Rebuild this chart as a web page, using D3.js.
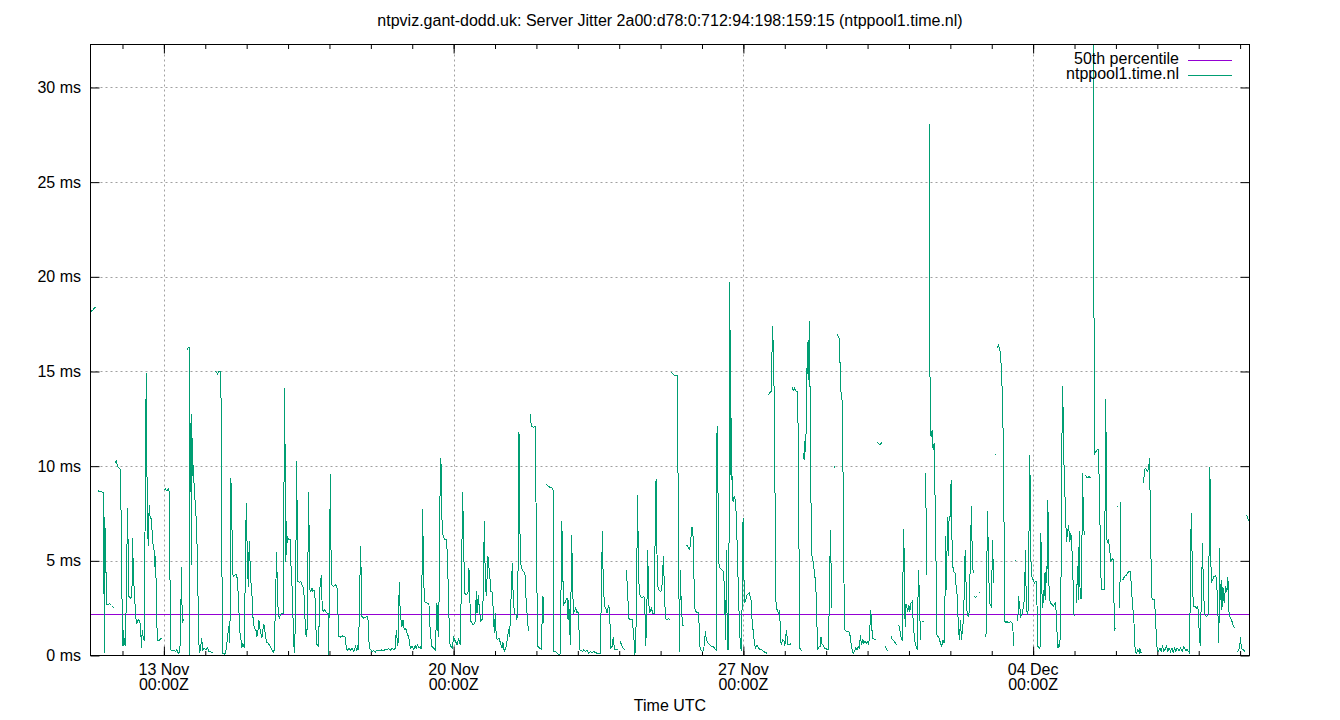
<!DOCTYPE html>
<html><head><meta charset="utf-8">
<script src="https://cdn.jsdelivr.net/npm/d3@7"></script>
<style>
body{margin:0;background:#fff;}
svg{display:block;font-family:"Liberation Sans",Arial,sans-serif;}
</style></head><body>
<svg id="chart" width="1340" height="720"></svg>
<script>
// ---------------- data ----------------
const chartTitle = "ntpviz.gant-dodd.uk: Server Jitter 2a00:d78:0:712:94:198:159:15 (ntppool1.time.nl)";
const xAxisTitle = "Time UTC";
const seriesNames = ["50th percentile", "ntppool1.time.nl"];
const startTime = "2023-11-11T05:27:00Z";   // left edge of the time axis
const spanHours = 672;                        // 28 days shown
const yMaxMs = 32.27;
const yTicksMs = [0, 5, 10, 15, 20, 25, 30];
const xMajorTicks = ["2023-11-13T00:00:00Z", "2023-11-20T00:00:00Z", "2023-11-27T00:00:00Z", "2023-12-04T00:00:00Z"];
const xTickLabels = ["13 Nov", "20 Nov", "27 Nov", "04 Dec"];
const xTickSubLabel = "00:00Z";
const percentile50Ms = 2.19;
// [hours since startTime, jitter in ms]; null = gap in the data
const jitterSamples = [
[0.22,18.17],[0.99,18.22],[1.76,18.29],[2.54,18.4],[2.92,18.4],null,
[4.08,8.66],[4.86,8.7],[5.82,8.66],[6.6,8.63],[7.56,8.63],[7.76,4.38],[8.05,0.12],[8.34,7.34],[8.72,4.35],[8.91,4.96],[9.11,3.73],[9.5,2.68],[10.27,2.68],[11.04,2.76],[11.81,2.68],null,
[12.6,2.57],[13.4,2.55],null,
[14.13,10.16],[14.9,10.3],[15.68,9.98],[16.65,9.89],[17.42,9.81],[18.0,5.23],[18.58,0.48],[18.97,1.36],[19.35,0.48],[19.74,0.92],[20.32,0.51],[20.9,4.17],[21.48,7.78],[21.87,5.4],[22.25,3.12],[23.22,3.03],[24.0,3.12],[24.38,6.2],[24.77,4.7],[25.35,3.38],[25.73,2.85],[26.31,1.97],[26.89,1.71],[27.67,1.88],[28.63,1.8],[29.21,1.09],[29.6,0.39],[29.98,1.36],[30.56,0.92],[31.14,0.83],[31.72,7.87],[32.3,14.91],[32.69,10.42],[32.88,7.87],[33.46,5.76],[34.04,7.96],[34.62,7.25],[35.4,7.25],[35.98,5.93],[36.75,5.76],[37.14,4.7],[37.72,5.23],[38.3,2.76],[38.69,0.83],[39.65,0.77],[40.43,0.86],[41.2,0.92],null,
[42.55,8.75],[43.32,8.8],[44.29,8.7],[45.06,8.79],[45.64,8.66],[46.03,4.52],[46.61,0.3],[47.38,0.26],[48.54,0.25],[49.32,0.21],[50.09,0.3],[50.86,0.12],[51.83,0.21],[52.41,2.59],[52.8,4.7],[53.18,1.71],[53.76,1.88],[54.53,1.8],null,
[56.08,16.14],[56.66,16.29],[57.24,16.29],[57.43,0.04],[57.63,8.05],[58.01,11.21],[58.4,12.76],[58.59,4.79],[58.98,11.48],[59.56,9.72],[60.33,8.66],[60.91,7.69],[61.49,6.99],[62.07,4.61],[62.65,1.44],[63.04,0.12],[63.81,0.3],[64.39,0.92],[65.17,0.3],[65.94,0.39],[66.71,0.3],[67.87,0.39],[68.65,0.21],[69.42,0.21],[70.19,0.18],[71.16,0.16],null,
[72.12,15.04],[73.09,14.95],[73.67,14.88],[74.44,15.0],[75.6,15.0],[75.99,7.52],[76.57,0.12],[77.54,0.07],[78.31,0.12],[78.89,0.48],[79.47,1.0],[80.24,1.53],[80.82,0.65],[81.4,9.37],[81.98,7.08],[82.37,4.35],[82.95,4.17],[83.72,4.26],[84.5,4.26],[85.08,4.08],[85.85,2.94],[86.43,1.36],[87.2,0.92],[87.59,0.39],[88.36,0.65],[89.14,0.39],[89.72,4.17],[90.3,8.05],[90.88,5.49],[91.46,3.64],[92.04,6.02],[92.62,4.7],[93.2,3.56],[93.78,3.03],[94.36,1.71],[95.13,1.44],[95.9,1.36],[96.48,1.0],[97.06,1.27],[97.64,1.88],[98.22,1.44],[98.8,1.18],[99.38,0.92],[99.96,1.36],[100.54,1.65],[101.12,1.27],[101.7,0.92],[102.28,0.69],[103.06,0.65],[104.02,0.51],[104.99,0.33],[105.96,0.16],[106.54,0.3],[107.31,2.94],[107.89,5.49],[108.28,3.82],[108.86,2.15],[109.44,1.97],[110.21,2.15],[110.79,2.24],[111.76,2.24],[112.14,8.22],[112.53,14.12],[112.91,9.54],[113.3,4.96],[113.69,7.08],[114.07,5.93],[114.65,6.2],[115.23,6.11],[115.81,6.11],[116.39,4.35],[116.97,3.47],[117.55,1.53],[118.13,0.12],[118.71,1.44],[119.1,5.32],[119.48,10.25],[119.87,7.08],[120.26,3.91],[121.03,3.86],[121.8,3.91],[122.38,3.82],[122.96,3.64],[123.54,3.56],[123.93,3.03],[124.51,1.62],[124.9,1.09],[125.48,1.0],[126.06,4.88],[126.44,8.66],[126.83,6.02],[127.21,3.47],[127.79,3.38],[128.37,3.56],[128.95,3.38],[129.54,3.47],[130.12,3.2],[130.5,1.97],[131.08,0.56],[131.66,0.56],[132.24,0.48],[132.63,2.06],[133.01,3.56],[133.4,3.82],[133.79,4.26],[134.37,2.5],[134.95,2.32],[135.53,2.45],
[136.32,2.32],[137.1,2.24],[137.87,2.24],[138.06,0.05],[138.64,4.88],[139.03,9.6],[139.22,6.64],[139.61,4.88],[140.0,3.73],[140.96,3.64],[141.93,3.73],[142.9,3.64],[143.47,2.24],[144.05,1.0],[145.22,0.97],[146.37,1.04],[147.73,0.97],[148.31,0.39],[149.08,0.26],[149.85,0.39],[150.63,0.26],[151.59,0.39],[152.56,0.21],[153.72,0.48],[154.49,0.26],[154.88,0.56],[155.46,0.3],[156.04,3.29],[156.62,5.79],[157.01,3.91],[157.39,2.06],[158.36,1.97],[159.33,2.02],[160.29,2.06],[160.87,1.97],[161.65,0.39],[162.23,0.33],[163.19,0.21],[164.16,0.26],[165.13,0.16],[166.09,0.3],[167.06,0.26],[168.02,0.26],[168.99,0.3],[169.96,0.26],[170.92,0.33],[171.89,0.3],[172.86,0.39],[173.82,0.26],[174.79,0.39],[175.76,0.3],[176.72,0.39],[177.3,1.36],[177.69,0.97],[178.27,0.48],[179.04,3.86],[179.62,2.15],[180.59,1.53],[181.17,1.88],[181.94,1.36],[182.71,1.44],[183.87,1.09],[184.45,1.0],[185.42,0.39],[186.39,0.48],[187.35,0.33],[188.32,0.51],[188.9,0.39],[189.67,0.56],[190.45,0.39],[191.22,0.48],[191.8,0.33],[192.19,4.0],[192.57,7.73],[192.96,5.23],[193.54,2.85],[194.31,2.8],[195.47,2.76],[196.25,2.68],[197.02,1.18],[197.99,0.48],[198.95,0.39],[199.92,0.3],[200.89,2.76],[201.27,1.53],[201.85,0.97],[202.43,5.76],[202.82,10.42],[203.2,10.25],[203.59,8.22],[203.98,6.37],[204.37,6.37],[205.33,6.11],[206.3,6.11],[206.88,5.4],[207.46,3.47],[208.23,0.65],[209.0,0.48],[209.78,0.39],[210.55,1.0],[211.13,0.83],[211.71,0.74],[212.48,0.56],[213.45,0.92],[214.42,0.56],[215.19,4.61],[215.77,8.66],[216.35,5.93],[216.93,3.29],[217.9,3.2],[218.86,3.29],[219.44,4.61],[219.83,3.12],[220.6,1.8],[221.38,1.67],[222.15,1.62],[223.12,1.8],[223.69,3.38],[224.08,2.24],[224.85,3.2],[225.63,2.24],[226.4,1.8],[227.37,1.97],[227.95,4.52],[228.33,7.08],[228.91,4.0],[229.49,3.12],[230.46,5.23],[231.43,4.26],[232.2,3.38],[232.97,3.33],[233.55,2.32],[234.13,1.18],[234.71,2.24],[235.29,0.92],[236.07,0.83],[236.84,0.92],[237.61,0.69],[238.58,0.39],[239.16,0.69],[239.93,0.21],[241.1,0.48],[242.45,1.39],[243.03,1.0],[243.8,2.94],[244.57,4.91],[244.96,3.47],[245.73,2.24],[246.7,2.15],[247.28,1.88],[247.86,4.26],[248.44,11.83],[248.82,8.31],[249.21,4.91],[250.37,4.52],[251.14,4.44],[251.92,4.26],[252.5,3.03],[253.08,2.24],[253.46,1.71],[254.04,1.27],null,
[255.01,12.75],[255.59,12.1],[256.95,12.06],[257.91,12.1],[258.49,6.37],[259.27,0.48],[260.43,0.39],[261.4,0.33],[261.97,2.24],[262.36,3.12],[262.94,1.74],null,
[264.3,9.07],[265.07,8.96],[266.23,8.89],[267.58,8.84],[268.18,8.75],[268.37,4.52],[268.56,0.21],[269.53,0.21],[270.5,0.12],[271.46,0.04],[272.43,0.09],[272.82,3.56],[273.2,7.08],[273.59,6.02],[273.98,3.82],[274.36,2.68],[274.94,2.76],[275.72,2.94],[276.3,3.03],[276.88,1.88],[277.26,2.94],[278.23,0.56],[278.62,3.47],[279.0,6.37],[279.39,4.35],[279.97,2.24],[280.55,2.32],[281.32,2.5],[282.1,2.24],[282.67,2.32],[283.25,1.36],[283.83,0.3],[284.61,0.26],[285.38,0.21],[285.96,0.3],[286.93,0.21],[287.89,0.3],[288.86,0.12],[289.83,0.21],[290.79,0.12],[291.76,0.21],[292.73,0.16],[293.69,0.12],[294.66,0.09],[295.63,0.09],[296.21,3.38],[296.79,6.55],[297.17,4.52],[297.94,2.59],[298.72,2.5],[299.49,2.24],[300.46,2.68],[301.04,2.24],[301.62,0.39],[302.39,0.48],[303.16,1.0],[303.74,0.3],[304.71,0.3],[305.87,0.3],null,
[307.22,0.74],[308.19,0.48],[309.54,0.3],null,
[310.7,4.52],[311.48,3.29],[312.06,1.97],[313.02,1.88],[313.99,1.92],[314.96,1.09],[315.54,0.12],[316.12,0.21],[316.89,5.76],[317.28,8.49],[317.66,4.35],[318.44,3.2],[319.79,3.03],[320.76,3.12],[321.34,2.94],[321.92,0.48],[322.5,1.88],[323.08,5.58],[323.66,2.76],[324.24,2.24],[325.2,2.5],[325.98,2.24],[326.75,2.24],[327.33,5.93],[327.91,9.31],[328.3,6.55],[328.68,3.73],[329.45,3.47],[330.42,3.38],[331.19,3.47],[331.77,4.35],[332.16,5.23],[332.74,3.56],[333.32,1.97],[334.29,1.88],[335.25,1.97],[335.83,1.88],null,
[336.6,14.95],[337.38,14.91],[338.15,14.82],[339.12,14.77],[340.08,14.77],[340.86,7.69],[341.44,0.21],[342.02,4.52],[342.4,3.12],[343.18,1.62],[344.34,1.53],null,
[345.5,5.85],[346.27,5.76],[347.43,5.58],[348.2,6.29],[348.78,6.81],[349.36,6.29],[349.94,4.0],[350.52,2.41],[351.68,2.24],[352.65,2.27],[353.23,0.48],[354.0,0.3],[354.78,0.21],[355.55,0.3],[356.52,1.27],[357.1,0.83],[358.06,0.65],[359.03,0.56],[360.0,0.48],[360.96,0.48],[361.74,0.39],[362.7,0.3],[363.28,12.1],[363.86,8.4],[364.44,4.7],[365.22,4.61],[366.18,4.52],[367.15,4.44],[367.73,2.68],[368.31,0.83],[368.69,5.58],[369.27,0.3],[370.05,0.3],[370.63,19.75],[371.01,13.94],[371.4,9.28],[371.59,12.54],[371.98,9.28],[372.56,8.13],[373.14,8.4],[373.91,8.22],[374.49,7.34],[375.07,5.4],[375.85,2.76],[376.81,0.39],[377.39,0.3],[377.97,3.64],[378.36,7.25],[378.74,4.52],[379.33,2.76],[380.68,3.2],[382.03,3.29],[383.0,2.94],[383.58,1.88],[384.93,0.65],[385.51,0.39],[386.48,0.56],[387.45,0.39],[388.41,0.3],[389.38,0.3],[390.35,0.21],[391.31,0.16],[392.28,0.12],null,
[393.25,13.77],[394.02,13.89],[394.6,13.94],[394.99,15.53],[395.57,17.38],[395.95,15.62],[396.34,14.12],[396.92,8.22],[397.5,2.5],[398.27,2.41],[398.85,2.24],[399.43,2.32],[400.01,1.53],[400.4,0.56],[401.36,0.83],[402.33,0.74],[402.54,0.48],[403.51,1.36],[404.28,0.56],[405.44,0.56],[406.22,0.65],null,
[406.8,14.03],[407.18,14.12],[407.76,14.0],[408.34,14.12],[409.12,13.94],[410.08,13.94],[410.66,7.25],[411.24,0.39],[412.02,0.3],[412.6,0.21],null,
[413.17,10.69],[413.75,10.33],[414.33,11.39],[414.72,10.77],[415.11,13.33],[415.69,16.58],[416.07,14.56],[416.85,17.64],[417.43,11.57],[418.01,5.4],[418.59,5.14],[419.17,4.88],[419.75,4.35],[420.52,3.82],[421.1,1.88],[421.68,0.3],[422.45,0.48],[423.03,0.48],[423.61,1.0],[424.19,0.56],[424.77,0.56],[425.55,0.39],[426.32,0.39],[427.09,0.3],[427.87,0.3],[428.45,3.47],[429.03,6.64],[429.41,4.61],[429.8,2.5],null,
[430.96,9.89],[431.73,9.98],null,
[433.08,16.97],[433.47,16.88],[434.05,16.76],[434.63,15.35],[435.21,13.77],[435.98,13.33],[436.56,7.08],[437.14,1.36],[437.92,1.3],[438.69,1.27],[439.66,1.27],[440.24,1.18],[440.62,0.83],[441.4,0.39],[442.17,0.12],[442.94,0.21],[443.72,0.39],[444.49,0.3],[445.26,0.48],[445.84,0.39],[446.42,1.09],[447.0,0.56],[447.78,0.83],[448.36,0.65],[449.13,0.74],[449.9,0.65],[450.68,0.74],[451.25,0.56],[451.83,1.36],[452.41,2.41],[452.99,1.44],[453.57,0.92],[454.73,0.83],[455.51,0.86],null,
[456.28,11.25],[457.05,11.18],[457.63,11.13],[458.41,11.21],[459.18,11.3],null,
[460.92,0.48],[461.5,0.3],[462.47,0.26],null,
[464.21,1.0],[464.98,0.83],[466.14,0.74],[467.3,0.56],null,
[468.65,1.62],[469.23,1.36],[470.01,0.92],[470.59,0.83],[470.97,3.73],[471.55,6.67],[471.94,3.73],[472.33,1.53],[472.71,2.73],[473.29,2.59],[473.87,2.32],[474.45,2.68],[475.03,2.32],[475.61,2.76],[476.39,2.85],[476.97,1.88],[477.74,0.83],[478.51,0.56],[479.29,0.3],[480.06,4.52],[480.64,3.03],[481.22,0.83],null,
[482.19,1.8],[483.15,1.8],null,
[484.31,9.63],[484.5,6.9],[484.7,4.26],null,
[486.44,28.07],[486.63,19.93],[486.83,11.74],[487.41,11.57],[487.98,11.92],[488.56,10.86],[489.14,11.21],[490.11,6.11],[490.69,1.09],[491.46,1.0],[492.04,0.92],[492.81,0.65],[493.59,0.48],[494.36,0.83],[494.94,0.65],[495.52,3.47],[495.91,6.29],[496.3,3.47],[496.88,7.34],[497.26,5.23],[497.84,7.34],[498.42,7.34],[499.0,9.28],[499.39,6.46],[499.97,4.7],[500.55,4.44],[501.32,4.35],[501.9,3.64],[502.48,3.2],[503.06,1.88],[503.45,1.18],[503.83,0.83],[504.41,1.88],[504.99,0.83],[505.57,1.36],[506.15,1.88],[506.54,3.12],[507.12,5.58],[507.7,3.64],[508.28,2.15],[509.05,2.06],[509.63,2.41],[510.21,5.76],[510.79,7.87],[511.18,5.67],[511.76,4.35],null,
[512.53,3.12],[513.31,3.06],[514.08,3.15],null,
[515.24,3.29],[516.01,3.38],null,
[516.8,3.82],[517.1,3.8],null,
[518.72,1.0],[519.3,1.18],[519.68,4.44],[520.07,7.61],[520.65,5.14],[521.23,2.76],[521.81,2.68],[522.39,2.59],[522.97,6.11],[523.35,4.88],[523.74,3.82],null,
[524.5,10.63],[524.9,10.6],null,
[525.87,16.23],[526.45,16.46],[527.03,16.14],[527.61,16.06],[528.38,14.56],[528.96,12.89],[529.54,8.49],[530.12,1.8],[530.9,1.74],[531.47,1.8],[532.05,1.71],[533.43,1.8],[534.4,1.71],[534.98,1.18],[535.17,0.48],null,
[536.2,5.05],[536.5,5.0],null,
[537.68,1.8],[538.07,3.12],[538.65,2.68],[539.42,2.06],[540.0,2.15],[540.58,2.41],[541.16,2.59],[541.74,4.0],[542.13,5.58],[542.51,3.12],[543.09,2.15],[543.67,2.41],[544.25,7.34],[544.64,10.6],[545.03,6.46],[545.41,4.52],[545.99,4.08],[546.57,4.0],[547.35,3.82],[547.93,3.91],[548.51,3.91],[549.28,0.48],[550.05,0.39],[550.63,0.48],[551.02,6.46],[551.6,3.47],[551.99,2.5],[552.37,3.47],[552.76,2.76],[553.15,4.35],[553.53,2.94],[554.11,4.7],[554.5,3.82],[555.08,8.22],[555.47,5.58],[555.85,3.03],[556.63,2.76],[557.59,2.68],[558.17,2.59],[558.75,2.68],[559.33,2.76],[559.72,2.59],[560.3,1.44],[560.88,0.39],[561.46,0.56],[562.04,0.48],[562.62,2.41],[563.0,9.28],[563.59,14.24],[563.97,12.8],[564.36,10.33],[565.32,7.52],[565.9,6.02],[566.48,6.46],[567.06,6.9],[567.84,6.02],[568.42,6.46],[569.0,5.76],[569.58,4.35],[570.16,2.15],[570.54,2.06],null,
[571.7,2.76],[572.28,4.7],[572.86,2.94],[573.25,6.55],[573.83,2.98],[574.6,3.03],[575.18,9.63],[575.76,7.17],[576.15,6.37],null,
[576.92,9.54],[577.89,9.37],[579.05,9.45],[579.82,9.37],null,
[581.56,34.0],[581.75,22.9],[581.95,12.18],[582.33,10.69],[582.91,10.77],[583.69,10.86],[584.46,10.9],[585.23,7.34],[586.01,3.56],[586.59,3.47],[587.75,3.47],[588.33,8.49],[588.71,13.54],[589.1,6.2],[589.68,6.02],[590.26,6.11],[591.03,5.49],[591.61,4.96],[592.39,5.14],[592.97,5.05],[593.74,1.36],[594.32,1.44],null,
[595.1,7.87],[595.5,7.85],null,
[596.83,2.5],[597.22,8.13],null,
[598.57,4.0],[599.54,4.17],[600.7,4.26],[602.05,4.44],[603.02,4.44],[603.6,3.38],[604.95,1.88],[605.73,0.21],[606.5,0.12],[607.27,0.3],[608.05,0.16],[608.43,0.39],[609.21,0.12],null,
[610.56,9.1],[611.14,9.81],[611.91,9.89],[612.69,9.72],[613.46,9.84],[614.04,10.42],[614.62,6.9],[615.2,3.12],[615.97,2.94],[616.94,2.94],[617.71,1.53],[618.48,0.3],[619.26,0.21],[620.03,0.39],[620.8,0.21],[621.58,0.48],[622.35,0.21],[623.12,0.33],[623.9,0.51],[624.67,0.21],[625.44,0.39],[626.22,0.21],[626.99,0.39],[627.76,0.16],[628.54,0.39],[629.31,0.21],[630.08,0.39],[631.05,0.26],[632.01,0.39],[632.98,0.21],[633.95,0.48],[634.91,0.25],[635.88,0.33],[637.23,0.12],[638.2,7.52],[638.78,5.05],[639.36,2.62],[640.33,2.59],[641.3,2.5],[642.07,2.59],[642.65,1.53],[643.43,0.48],[644.0,2.76],[644.78,5.93],[645.16,4.0],[645.94,2.15],[647.1,2.06],[648.06,2.15],[648.64,6.02],[649.03,9.98],[649.42,6.81],[649.8,3.82],[650.57,4.0],[651.35,4.17],[652.12,4.21],[652.9,4.08],[653.67,2.32],[654.25,0.65],[654.63,5.67],[655.02,2.94],[655.6,4.0],[655.99,2.41],[656.57,3.64],[657.34,2.76],[658.11,3.64],[658.89,3.38],[659.47,4.17],[660.05,2.32],[660.82,1.97],[661.6,1.88],[662.37,1.62],[663.34,1.44],null,
[664.88,0.21],[665.85,0.3],[666.43,0.56],[666.82,1.0],[667.2,0.39],[668.36,0.3],[669.33,0.21],null,
[670.29,7.43],[671.26,7.17],[672.03,7.08]
];

// ---------------- drawing ----------------
const W = 1340, H = 720;
const L = 90.5, R = 1249.5, T = 44.5, B = 655.5;
const FONT = 16;
const colPct = "#9400d3", colJit = "#009e73", colGrid = "#a0a0a0";

const t0 = new Date(startTime);
const toDate = h => new Date(t0.getTime() + h * 3600e3);
const x = d3.scaleUtc().domain([t0, toDate(spanHours)]).range([L, R]);
const y = d3.scaleLinear().domain([0, yMaxMs]).range([B, T]);
const majorDates = xMajorTicks.map(s => new Date(s));
const crisp = v => Math.round(v) + 0.5;

const svg = d3.select("#chart");
svg.append("rect").attr("width", W).attr("height", H).attr("fill", "#fff");
svg.append("defs").append("clipPath").attr("id", "plotClip")
  .append("rect").attr("x", L).attr("y", T).attr("width", R - L).attr("height", B - T);

// grid
const grid = svg.append("g").attr("stroke", colGrid).attr("stroke-width", 1).attr("stroke-dasharray", "2,3");
grid.selectAll("line.gy").data(yTicksMs.filter(v => v > 0)).join("line").attr("class", "gy")
  .attr("x1", L).attr("x2", R).attr("y1", d => crisp(y(d))).attr("y2", d => crisp(y(d)));
grid.selectAll("line.gx").data(majorDates).join("line").attr("class", "gx")
  .attr("x1", d => crisp(x(d))).attr("x2", d => crisp(x(d))).attr("y1", T).attr("y2", B);

// axes (ticks inward, gnuplot style)
function styleAxis(g) {
  g.select(".domain").remove();
  g.attr("font-family", null).attr("font-size", null);
  g.selectAll(".tick line").attr("stroke", "#000").attr("stroke-width", 1);
  g.selectAll(".tick text").attr("fill", "#000").style("font-size", FONT + "px");
}
svg.append("g").attr("transform", `translate(${L},0)`)
  .call(d3.axisLeft(y).tickValues(yTicksMs).tickSize(-9).tickPadding(9.5).tickFormat(d => d + " ms"))
  .call(styleAxis);
svg.append("g").attr("transform", `translate(${R},0)`)
  .call(d3.axisRight(y).tickValues(yTicksMs).tickSize(-9).tickFormat(""))
  .call(styleAxis);
const minorDays = d3.utcDay.range(d3.utcDay.ceil(toDate(0)), toDate(spanHours));
svg.append("g").attr("transform", `translate(0,${B})`)
  .call(d3.axisBottom(x).tickValues(minorDays).tickSize(-4.5).tickFormat("")).call(styleAxis);
svg.append("g").attr("transform", `translate(0,${T})`)
  .call(d3.axisTop(x).tickValues(minorDays).tickSize(-4.5).tickFormat("")).call(styleAxis);
svg.append("g").attr("transform", `translate(0,${B})`)
  .call(d3.axisBottom(x).tickValues(majorDates).tickSize(-9).tickFormat("")).call(styleAxis);
svg.append("g").attr("transform", `translate(0,${T})`)
  .call(d3.axisTop(x).tickValues(majorDates).tickSize(-9).tickFormat("")).call(styleAxis);

// x tick labels (two lines)
const xl = svg.append("g").attr("font-size", FONT).attr("text-anchor", "middle").attr("fill", "#000");
xl.selectAll("text.l1").data(majorDates).join("text").attr("class", "l1")
  .attr("x", d => x(d)).attr("y", 675).text((d, i) => xTickLabels[i]);
xl.selectAll("text.l2").data(majorDates).join("text").attr("class", "l2")
  .attr("x", d => x(d)).attr("y", 690).text(xTickSubLabel);

// series
const plot = svg.append("g").attr("clip-path", "url(#plotClip)");
plot.append("line").attr("x1", L).attr("x2", R)
  .attr("y1", crisp(y(percentile50Ms))).attr("y2", crisp(y(percentile50Ms)))
  .attr("stroke", colPct).attr("stroke-width", 1);
const line = d3.line().defined(d => d != null).x(d => x(toDate(d[0]))).y(d => y(d[1]));
plot.append("path").datum(jitterSamples).attr("d", line)
  .attr("fill", "none").attr("stroke", colJit).attr("stroke-width", 1)
  .attr("stroke-linejoin", "miter").attr("shape-rendering", "crispEdges");

// border
svg.append("rect").attr("x", L).attr("y", T).attr("width", R - L).attr("height", B - T)
  .attr("fill", "none").attr("stroke", "#000").attr("stroke-width", 1);

// legend
const legend = svg.append("g").attr("font-size", FONT).attr("fill", "#000");
const legendRows = [{ name: seriesNames[0], color: colPct, ty: 63.5, ly: 60.5 },
                    { name: seriesNames[1], color: colJit, ty: 79, ly: 75.5 }];
legend.selectAll("text").data(legendRows).join("text")
  .attr("x", 1179).attr("y", d => d.ty).attr("text-anchor", "end").text(d => d.name);
legend.selectAll("line").data(legendRows).join("line")
  .attr("x1", 1188).attr("x2", 1232).attr("y1", d => d.ly).attr("y2", d => d.ly)
  .attr("stroke", d => d.color).attr("stroke-width", 1);

// titles
svg.append("text").attr("x", 670).attr("y", 26).attr("text-anchor", "middle")
  .attr("font-size", FONT).attr("fill", "#000").text(chartTitle);
svg.append("text").attr("x", 670).attr("y", 711).attr("text-anchor", "middle")
  .attr("font-size", FONT).attr("fill", "#000").text(xAxisTitle);
</script>
</body></html>
